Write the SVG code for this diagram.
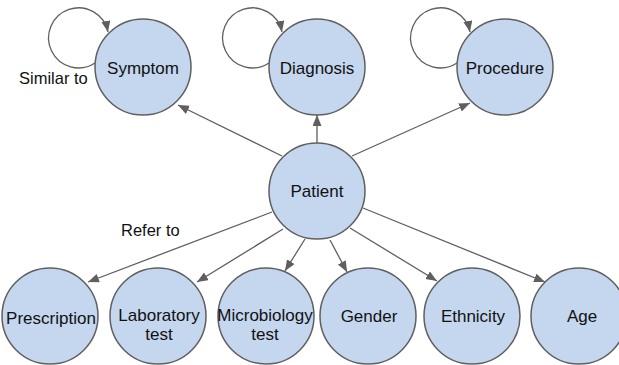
<svg xmlns="http://www.w3.org/2000/svg" width="619" height="365" viewBox="0 0 619 365">
<style>
.n{fill:#c5d6ef;stroke:#5f5f5f;stroke-width:1.5}
.t{font-family:"Liberation Sans",Arial,sans-serif;font-size:17px;fill:#111;text-anchor:middle}
.l{font-family:"Liberation Sans",Arial,sans-serif;font-size:16.5px;fill:#111}
.e{fill:none;stroke:#5f5f5f;stroke-width:1.3;marker-end:url(#a)}
</style>
<defs>
<marker id="a" markerUnits="userSpaceOnUse" markerWidth="12" markerHeight="10" refX="11" refY="4.5" orient="auto">
<path d="M0,0 L11,4.5 L0,9 z" fill="#5f5f5f"/>
</marker>
</defs>
<rect width="619" height="365" fill="#fff"/>
<g id="connectors">
<path class="e" d="M95,63 A30,30 0 1,1 108,32"/>
<path class="e" d="M269,63 A30,30 0 1,1 282,32"/>
<path class="e" d="M457,63 A30,30 0 1,1 470,32"/>
<path class="e" d="M282,156 L178,105"/>
<path class="e" d="M317,143 L317,115"/>
<path class="e" d="M352,156 L470,103"/>
<path class="e" d="M272,212 L88,282"/>
<path class="e" d="M283,229 L197,282"/>
<path class="e" d="M305,239 L285,271"/>
<path class="e" d="M330,240 L347,272"/>
<path class="e" d="M350,228 L437,281"/>
<path class="e" d="M363,208 L545,282"/>
</g>
<g id="symptom"><circle class="n" cx="143" cy="67" r="48"/><text class="t" x="143" y="74">Symptom</text></g>
<g id="diagnosis"><circle class="n" cx="317" cy="67" r="48"/><text class="t" x="317" y="74">Diagnosis</text></g>
<g id="procedure"><circle class="n" cx="505" cy="67" r="48"/><text class="t" x="505" y="74">Procedure</text></g>
<g id="patient"><circle class="n" cx="317" cy="191" r="48"/><text class="t" x="317" y="197">Patient</text></g>
<g id="prescription"><circle class="n" cx="50" cy="316" r="48"/><text class="t" x="51" y="324">Prescription</text></g>
<g id="laboratory"><circle class="n" cx="158" cy="316" r="48"/><text class="t" x="159" y="321">Laboratory</text><text class="t" x="159" y="340">test</text></g>
<g id="microbiology"><circle class="n" cx="266" cy="316" r="48"/><text class="t" x="265" y="321">Microbiology</text><text class="t" x="265" y="340">test</text></g>
<g id="gender"><circle class="n" cx="368" cy="316" r="48"/><text class="t" x="369" y="322">Gender</text></g>
<g id="ethnicity"><circle class="n" cx="472" cy="316" r="48"/><text class="t" x="473" y="322">Ethnicity</text></g>
<g id="age"><circle class="n" cx="579" cy="316" r="48"/><text class="t" x="582" y="322">Age</text></g>
<text class="l" x="19" y="84">Similar to</text>
<text class="l" x="121" y="236">Refer to</text>
</svg>
